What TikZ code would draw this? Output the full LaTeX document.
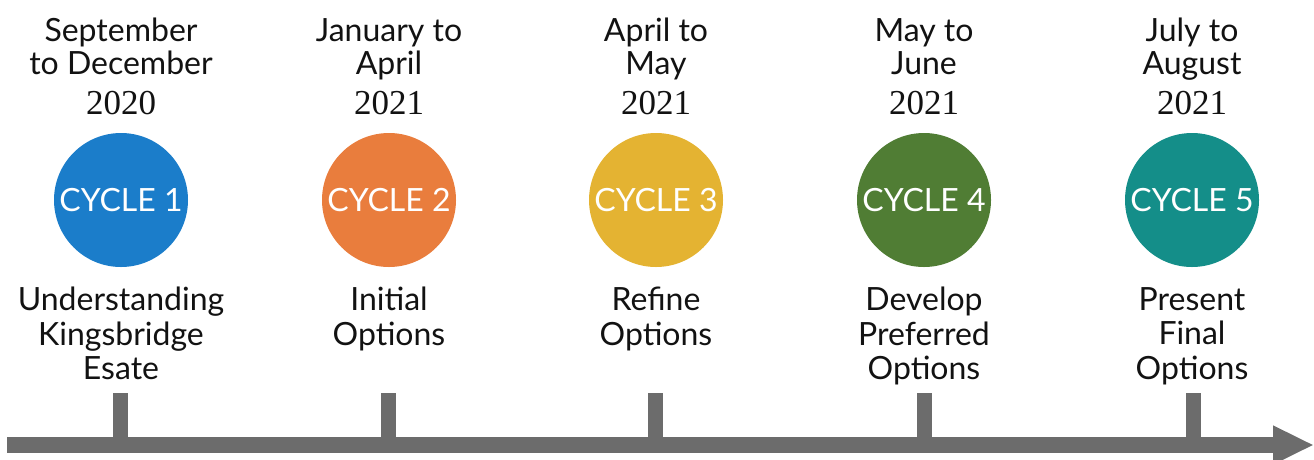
\documentclass[tikz,border=0pt]{standalone}
\usepackage{fontspec}
\newfontfamily\gillfont{Lato}
\newfontfamily\serifyear{Liberation Serif}
\newcommand\yearfont{\serifyear\fontsize{35}{35}\selectfont}
\usetikzlibrary{arrows.meta,positioning}
\definecolor{cycone}{RGB}{27,125,202}
\definecolor{cyctwo}{RGB}{233,125,61}
\definecolor{cycthree}{RGB}{228,179,50}
\definecolor{cycfour}{RGB}{80,125,52}
\definecolor{cycfive}{RGB}{20,142,137}
\definecolor{axisgray}{RGB}{108,108,108}
\definecolor{ink}{RGB}{18,18,18}
\tikzset{
  phase/.style={circle, minimum size=134pt, inner sep=0pt, text=white,
              font=\gillfont\fontsize{32}{32}\selectfont},
  when/.style={inner sep=0pt, align=center, text=ink,
              font=\gillfont\fontsize{32}{33}\selectfont},
  task/.style={inner sep=0pt, align=center, text=ink,
              font=\gillfont\fontsize{32}{34.5}\selectfont},
  stem/.style={axisgray, line width=15pt},
  timeline/.style={axisgray, line width=16pt, -{Triangle[length=41pt,width=36pt]}},
}

\begin{document}
\begin{tikzpicture}[x=1pt, y=-1pt]
    \useasboundingbox (0,0) rectangle (1314,459);
    % cycles
    \node[phase, fill=cycone]   (c1) at (121,200)  {CYCLE 1};
    \node[phase, fill=cyctwo]   (c2) at (389,200)  {CYCLE 2};
    \node[phase, fill=cycthree] (c3) at (656,200)  {CYCLE 3};
    \node[phase, fill=cycfour]  (c4) at (924,200)  {CYCLE 4};
    \node[phase, fill=cycfive]  (c5) at (1192,200) {CYCLE 5};
    % dates
    \node[when, above=18pt of c1] (d1) {September\\to December\\[7pt]{\yearfont 2020}};
    \node[when, above=18pt of c2] (d2) {January to\\April\\[7pt]{\yearfont 2021}};
    \node[when, above=18pt of c3] (d3) {April to\\May\\[7pt]{\yearfont 2021}};
    \node[when, above=18pt of c4] (d4) {May to\\June\\[7pt]{\yearfont 2021}};
    \node[when, above=18pt of c5] (d5) {July to\\August\\[7pt]{\yearfont 2021}};
    % tasks
    \node[task, below=20pt of c1] (t1) {Understanding\\Kingsbridge\\Esate};
    \node[task, below=20pt of c2] (t2) {Initial\\Options};
    \node[task, below=20pt of c3] (t3) {Refine\\Options};
    \node[task, below=20pt of c4] (t4) {Develop\\Preferred\\Options};
    \node[task, below=20pt of c5] (t5) {Present\\Final\\Options};
    % timeline
    \coordinate (start) at (7,445);
    \coordinate (end) at (1314,445);
    \foreach \i/\x in {1/120,2/388,3/655,4/924,5/1193} {
      \coordinate (top\i) at (\x,393);
      \coordinate (foot\i) at (\x,445);
      \draw[stem] (top\i) -- (foot\i);
    }
    \draw[timeline] (start) -- (end);
  \end{tikzpicture}
\end{document}
